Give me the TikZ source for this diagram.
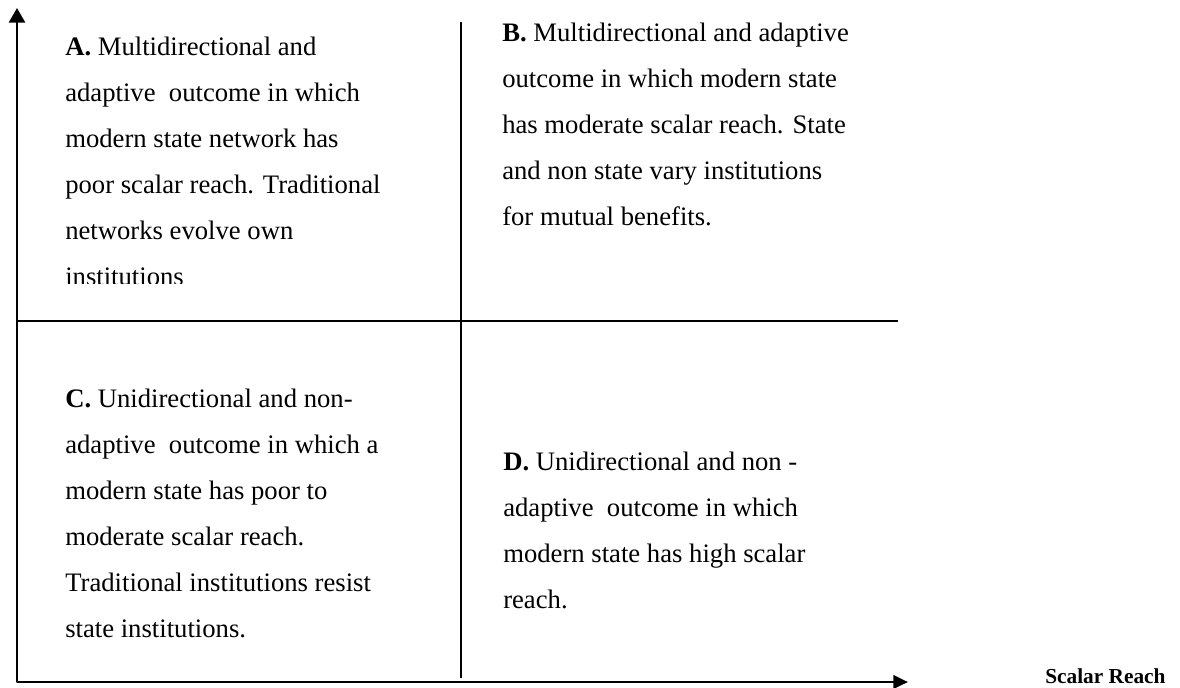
\documentclass[tikz,border=0pt]{standalone}
\usepackage{fontspec}
\setmainfont{Liberation Serif}
\usetikzlibrary{arrows.meta}
\tikzset{
  axisline/.style={line width=2.2pt, line join=round,
    {Triangle[length=11pt,width=12pt]}-{Triangle[length=11pt,width=10pt]}},
  divline/.style={line width=1.4pt},
  blocktext/.style={anchor=base west, inner sep=0pt, font=\fontsize{20}{34.5}\selectfont},
  axislabel/.style={anchor=base west, inner sep=0pt, font=\fontsize{16}{19}\selectfont\bfseries}
}
\begin{document}
\begin{tikzpicture}[x=0.75pt,y=-0.75pt]
\useasboundingbox (0,0) rectangle (1180,688);
\coordinate (O) at (17,682);
\coordinate (ytop) at (17,8);
\coordinate (xend) at (908,682);
\coordinate (vtop) at (461,22);
\coordinate (vbot) at (461,678);
\coordinate (hleft) at (17,321);
\coordinate (hright) at (898,321);
\draw[axisline] (ytop) -- (O) -- (xend);
\draw[divline] (vtop) -- (vbot);
\draw[divline] (hleft) -- (hright);
\begin{scope}
\clip (18,0) rectangle (460,283.5);
\node[blocktext] (A) at (65,56) {\begin{tabular}[t]{@{}l@{}}
\textbf{A.} Multidirectional and\\
adaptive~ outcome in which\\
modern state network has\\
poor scalar reach. Traditional\\
networks evolve own\\
institutions
\end{tabular}};
\end{scope}
\node[blocktext] (B) at (502,42) {\begin{tabular}[t]{@{}l@{}}
\textbf{B.} Multidirectional and adaptive\\
outcome in which modern state\\
has moderate scalar reach. State\\
and non state vary institutions\\
for mutual benefits.
\end{tabular}};
\node[blocktext] (C) at (65,407) {\begin{tabular}[t]{@{}l@{}}
\textbf{C.} Unidirectional and non-\\
adaptive~ outcome in which a\\
modern state has poor to\\
moderate scalar reach.\\
Traditional institutions resist\\
state institutions.
\end{tabular}};
\node[blocktext] (D) at (503,470) {\begin{tabular}[t]{@{}l@{}}
\textbf{D.} Unidirectional and non -\\
adaptive~ outcome in which\\
modern state has high scalar\\
reach.
\end{tabular}};
\node[axislabel] (SR) at (1045,683) {Scalar Reach};
\end{tikzpicture}
\end{document}
